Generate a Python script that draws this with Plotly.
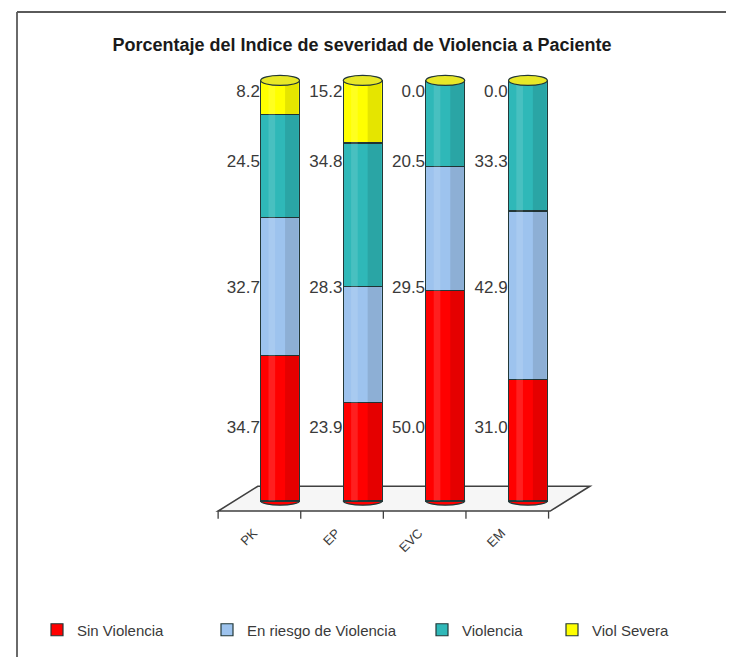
import plotly.graph_objects as go

categories = ["PK", "EP", "EVC", "EM"]
series_names = ["Sin Violencia", "En riesgo de Violencia", "Violencia", "Viol Severa"]
sin_violencia = [34.7, 23.9, 50.0, 31.0]
en_riesgo = [32.7, 28.3, 29.5, 42.9]
violencia = [24.5, 34.8, 20.5, 33.3]
viol_severa = [8.2, 15.2, 0.0, 0.0]

series_values = [sin_violencia, en_riesgo, violencia, viol_severa]
colors = ["#FF0000", "#9DC3EE", "#2FB8B8", "#FFFF00"]
outline = "#233838"
FONT = "Liberation Sans, Arial, sans-serif"

n = len(categories)
xs = list(range(n))
totals = [sum(s[i] for s in series_values) for i in range(n)]
BW = 0.47

# page body has an 8px default margin; compensate in figure margins
OFF = 8
L, T = 214 - OFF, 72 - OFF
PW, PH = 380, 450
W, H = 734, 657

legend_ids = ["legend", "legend2", "legend3", "legend4"]
legend_text_start = [77, 247, 462, 592]  # screen px of legend text start

fig = go.Figure()
for name, vals, col, lid in zip(series_names, series_values, colors, legend_ids):
    fig.add_trace(go.Bar(
        x=xs, y=vals, name=name, width=BW, legend=lid,
        marker=dict(color=col, line=dict(color=outline, width=1.2)),
        hoverinfo="name+y",
    ))

# value labels: left of each bar, row height = mean normalized segment mid
cum = [0.0] * n
for vals in series_values:
    mids = [(cum[i] + vals[i] / 2) / totals[i] * 100 for i in range(n)]
    row_y = sum(mids) / n
    fig.add_trace(go.Scatter(
        x=[i - BW / 2 - 0.01 for i in xs], y=[row_y] * n,
        mode="text", text=[f"{v:.1f}" for v in vals],
        textposition="middle left",
        textfont=dict(family=FONT, size=17, color="#3a3a3a"),
        showlegend=False, hoverinfo="skip",
    ))
    cum = [cum[i] + vals[i] for i in range(n)]

shapes = []
# platform (3D floor)
shapes.append(dict(type="path", xref="x", yref="y", layer="below",
                   path="M -0.75,-2.4 L 3.27,-2.4 L 3.75,3.5 L -0.27,3.5 Z",
                   fillcolor="#f6f6f6", line=dict(color="#404040", width=1.6)))
# front ticks
for k in range(n + 1):
    shapes.append(dict(type="line", xref="x", yref="y", x0=k - 0.75, x1=k - 0.75,
                       y0=-2.4, y1=-4.2, line=dict(color="#404040", width=1.3)))
# cylinder bottoms, shading and tops
for i in xs:
    shapes.append(dict(type="circle", xref="x", yref="y", layer="below",
                       x0=i - BW / 2, x1=i + BW / 2, y0=-1.0, y1=1.0,
                       fillcolor=colors[0], line=dict(color=outline, width=1.2)))
    shapes.append(dict(type="rect", xref="x", yref="y", layer="above",
                       x0=i + 0.06, x1=i + BW / 2 - 0.01, y0=0, y1=100,
                       fillcolor="rgba(0,0,0,0.10)", line=dict(width=0)))
    shapes.append(dict(type="rect", xref="x", yref="y", layer="above",
                       x0=i - 0.14, x1=i - 0.06, y0=0, y1=100,
                       fillcolor="rgba(255,255,255,0.12)", line=dict(width=0)))
    shapes.append(dict(type="circle", xref="x", yref="y", layer="above",
                       x0=i - BW / 2, x1=i + BW / 2, y0=100 - 1.2, y1=100 + 1.2,
                       fillcolor="#E8E828", line=dict(color=outline, width=1.2)))
# outer frame (left and top)
fx = (17 - 214) / PW
fy = (522 - 12) / PH
shapes.append(dict(type="line", xref="paper", yref="paper", x0=fx, x1=fx,
                   y0=-0.32, y1=fy, line=dict(color="#6a6a6a", width=2)))
shapes.append(dict(type="line", xref="paper", yref="paper", x0=fx, x1=1.4,
                   y0=fy, y1=fy, line=dict(color="#5a5a5a", width=2)))

layout_legends = {}
for lid, ts in zip(legend_ids, legend_text_start):
    layout_legends[lid] = dict(
        orientation="h", x=(ts - 40 - 214) / PW, y=(522 - 630) / PH,
        xanchor="left", yanchor="middle", itemwidth=30,
        font=dict(family=FONT, size=15, color="#3a3a3a"),
        bgcolor="rgba(0,0,0,0)",
    )

fig.update_layout(
    width=W, height=H,
    margin=dict(l=L, r=W - L - PW, t=T, b=H - T - PH),
    paper_bgcolor="white", plot_bgcolor="white",
    barmode="stack", barnorm="percent",
    title=dict(text="Porcentaje del Indice de severidad de Violencia a Paciente",
               x=(362 - OFF) / W, xanchor="center", y=1 - (45 - OFF) / H, yanchor="middle",
               yref="container",
               font=dict(family=FONT, size=18, color="#1a1a1a", weight="bold")),
    xaxis=dict(range=[-0.8, 3.8], tickvals=[i - 0.32 for i in xs], ticktext=categories,
               tickangle=-45, showgrid=False, zeroline=False, showline=False,
               ticks="", tickfont=dict(family=FONT, size=13, color="#3a3a3a")),
    yaxis=dict(range=[-5, 102], showgrid=False, zeroline=False, showline=False,
               showticklabels=False, ticks=""),
    shapes=shapes,
    showlegend=True,
    **layout_legends,
)

fig.write_html("out.html")
